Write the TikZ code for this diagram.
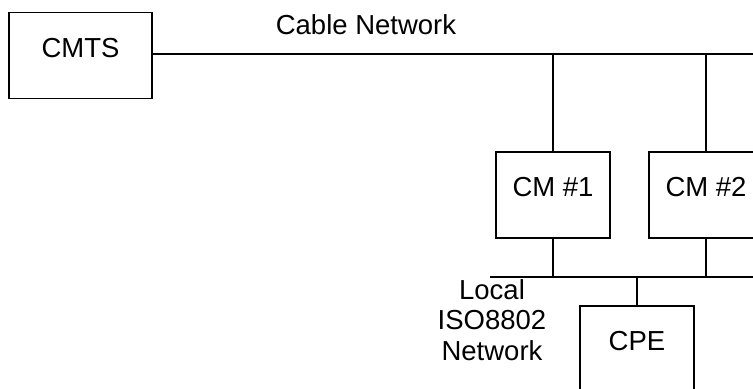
\documentclass[tikz,border=0pt]{standalone}
\usepackage{fontspec}
\setmainfont{Liberation Sans}
\begin{document}
\begin{tikzpicture}[x=1bp,y=-1bp, font=\fontsize{27.6pt}{30.6pt}\selectfont,
  b/.style={draw,line width=1.7bp,inner sep=0pt,minimum width=114bp,minimum height=86bp,text height=20bp,text depth=17bp},
  e/.style={line width=1.7bp}]
\useasboundingbox (0,0) rectangle (753,388);
\node[b,minimum width=143bp] (cmts) at (80.5,55.5) {CMTS};
\node[b] (cm1) at (553,195) {CM \#1};
\node[b] (cm2) at (706,195) {CM \#2};
\node[b] (cpe) at (637,349) {CPE};
\node (cable) at (366,25) {Cable Network};
\node[align=center,inner sep=0pt] (lan) at (492,320) {Local\\ISO8802\\Network};
\coordinate (c) at (770,54);
\coordinate (l) at (490,277);
\coordinate (r) at (770,277);
\draw[e] (cmts.east |- c) -- (c);
\draw[e] (cm1.north) -- (cm1.north |- c);
\draw[e] (cm2.north) -- (cm2.north |- c);
\draw[e] (l) -- (r);
\draw[e] (cm1.south) -- (cm1.south |- l);
\draw[e] (cm2.south) -- (cm2.south |- l);
\draw[e] (cpe.north) -- (cpe.north |- l);
\end{tikzpicture}
\end{document}
